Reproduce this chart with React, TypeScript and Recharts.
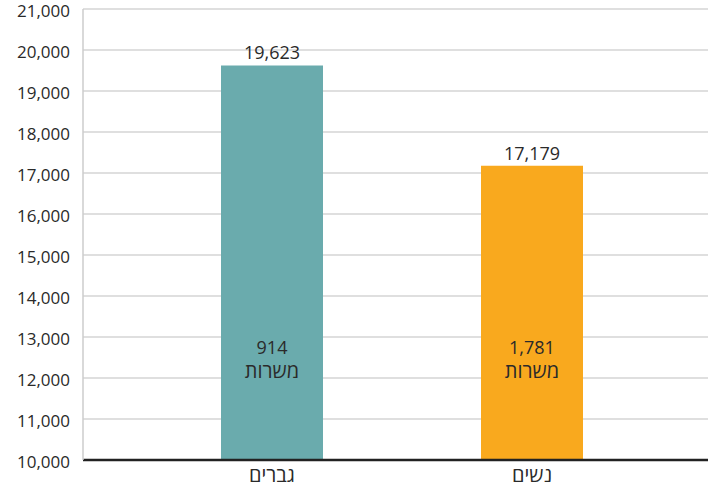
import { BarChart, Bar, XAxis, YAxis, CartesianGrid, LabelList, Cell } from "recharts";

const categories = ["גברים", "נשים"];
const salaries = [19623, 17179];
const positions = ["914", "1,781"];
const positionsLabel = "משרות";
const barColors = ["#6AABAD", "#F9A91E"];
const yTicks = [10000, 11000, 12000, 13000, 14000, 15000, 16000, 17000, 18000, 19000, 20000, 21000];

const data = categories.map((name, i) => ({
  name,
  value: salaries[i],
  positions: positions[i],
}));

const FONT = "'Open Sans', 'DejaVu Sans', sans-serif";
const TEXT = "#2a2a2a";
const fmt = (v: number) => v.toLocaleString("en-US");

// positions count, drawn near the bottom of each bar
function InnerLabel(props: any) {
  const { x, y, width, height, index } = props;
  const cx = x + width / 2;
  const bottom = y + height;
  return (
    <g fontFamily={FONT} fill={TEXT} textAnchor="middle">
      <text x={cx} y={bottom - 106} fontSize={18}>
        {data[index].positions}
      </text>
      <text x={cx} y={bottom - 82} fontSize={20}>
        {positionsLabel}
      </text>
    </g>
  );
}

export default function App() {
  return (
    <div style={{ position: "absolute", left: 0, top: 0, background: "#fff" }}>
      <BarChart
        width={708}
        height={490}
        data={data}
        margin={{ top: 9, right: 0, bottom: 0, left: 0 }}
        barSize={102}
      >
        <CartesianGrid vertical={false} stroke="#d4d4d4" strokeWidth={1.5} />
        <XAxis
          dataKey="name"
          height={30}
          padding={{ left: 59, right: 46 }}
          axisLine={{ stroke: "#222", strokeWidth: 2.5 }}
          tickLine={false}
          tickSize={0}
          tickMargin={8}
          tick={{ fontSize: 20, fill: TEXT, fontFamily: FONT }}
        />
        <YAxis
          width={83}
          domain={[10000, 21000]}
          ticks={yTicks}
          interval={0}
          allowDataOverflow
          tickFormatter={fmt}
          axisLine={{ stroke: "#cccccc", strokeWidth: 1.5 }}
          tickLine={false}
          tickSize={0}
          tickMargin={13}
          tick={{ fontSize: 17, fill: TEXT, fontFamily: FONT, dy: 2 }}
        />
        <Bar dataKey="value" isAnimationActive={false}>
          {data.map((d, i) => (
            <Cell key={d.name} fill={barColors[i]} />
          ))}
          <LabelList
            dataKey="value"
            position="top"
            offset={6}
            formatter={(v: any) => fmt(Number(v))}
            style={{ fontSize: 18, fill: TEXT, fontFamily: FONT }}
          />
          <LabelList dataKey="positions" content={InnerLabel} />
        </Bar>
      </BarChart>
    </div>
  );
}
